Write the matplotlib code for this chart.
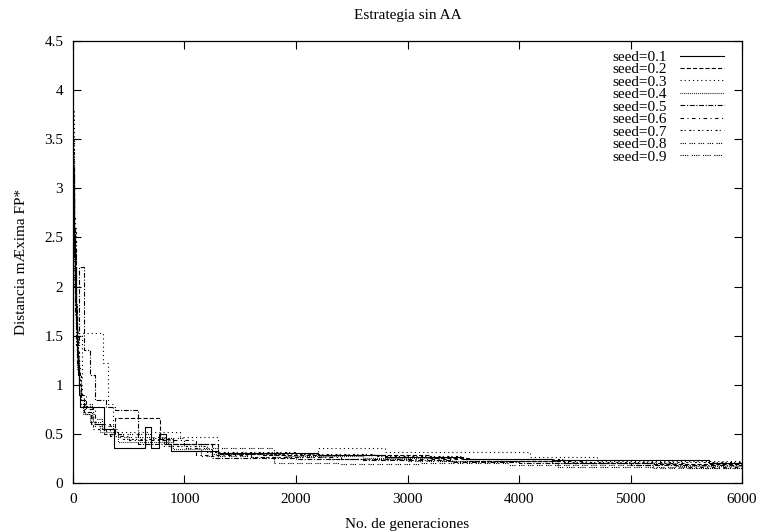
import numpy as np
import matplotlib
matplotlib.use("Agg")
import matplotlib.pyplot as plt

plt.rcParams['font.family'] = ['Liberation Serif', 'DejaVu Serif']
plt.rcParams['font.size'] = 11
plt.rcParams['lines.scale_dashes'] = False

# step series: generation where the value changes, distance from then on
gen_01 = [0, 4, 8, 12, 17, 22, 28, 35, 42, 50, 60, 277, 370, 645, 700, 775, 830, 880, 1300, 2200, 2800, 3500, 4300, 5700, 6000]
dist_01 = [3.0, 2.7, 2.9, 2.3, 2.0, 2.2, 1.6, 1.3, 1.1, 0.9, 0.77, 0.55, 0.36, 0.57, 0.36, 0.5, 0.4, 0.33, 0.31, 0.29, 0.26, 0.24, 0.23, 0.2, 0.2]

gen_02 = [0, 5, 10, 15, 20, 26, 33, 40, 55, 70, 95, 160, 280, 380, 780, 900, 1300, 1700, 2200, 3200, 3550, 4400, 5200, 6000]
dist_02 = [2.8, 3.2, 2.5, 2.1, 2.4, 1.8, 1.5, 1.2, 1.0, 0.85, 0.72, 0.6, 0.5, 0.66, 0.45, 0.4, 0.3, 0.29, 0.28, 0.25, 0.22, 0.2, 0.19, 0.19]

gen_03 = [0, 3, 6, 10, 15, 20, 30, 40, 55, 85, 270, 310, 360, 960, 1300, 2200, 2800, 4100, 4700, 6000]
dist_03 = [4.5, 3.8, 3.0, 2.6, 2.2, 1.9, 1.6, 1.3, 1.05, 1.53, 1.22, 0.8, 0.52, 0.47, 0.3, 0.36, 0.32, 0.26, 0.22, 0.22]

gen_04 = [0, 6, 12, 18, 25, 32, 40, 50, 65, 90, 150, 240, 400, 900, 1250, 1900, 2600, 3300, 4300, 5400, 6000]
dist_04 = [2.6, 2.3, 2.5, 1.9, 1.7, 1.4, 1.15, 0.95, 0.8, 0.7, 0.62, 0.52, 0.42, 0.35, 0.3, 0.27, 0.25, 0.22, 0.2, 0.17, 0.17]

gen_05 = [0, 5, 10, 16, 22, 30, 55, 100, 150, 200, 300, 380, 580, 1250, 2000, 2600, 3400, 4000, 5000, 6000]
dist_05 = [3.1, 2.7, 2.4, 2.0, 1.7, 1.4, 2.2, 1.35, 1.1, 0.85, 0.77, 0.74, 0.4, 0.25, 0.24, 0.23, 0.21, 0.2, 0.18, 0.18]

gen_06 = [0, 4, 9, 14, 20, 27, 35, 45, 60, 80, 120, 200, 330, 500, 1100, 1600, 2400, 3600, 4600, 5500, 6000]
dist_06 = [2.9, 2.5, 2.7, 2.2, 1.8, 1.75, 1.45, 1.2, 1.0, 0.9, 0.75, 0.6, 0.48, 0.44, 0.28, 0.26, 0.24, 0.22, 0.2, 0.16, 0.16]

gen_07 = [0, 5, 11, 17, 24, 31, 40, 52, 70, 100, 180, 300, 450, 820, 1200, 2000, 2700, 3500, 4400, 6000]
dist_07 = [3.3, 2.8, 2.4, 2.6, 2.0, 1.7, 1.35, 1.1, 0.9, 0.78, 0.55, 0.5, 0.45, 0.38, 0.32, 0.3, 0.27, 0.24, 0.21, 0.21]

gen_08 = [0, 4, 8, 13, 19, 26, 34, 44, 56, 72, 110, 200, 380, 700, 1000, 1800, 2400, 3100, 3900, 5200, 6000]
dist_08 = [2.7, 3.0, 2.4, 2.0, 2.2, 1.7, 1.5, 1.25, 1.0, 0.85, 0.7, 0.58, 0.5, 0.46, 0.36, 0.2, 0.19, 0.2, 0.18, 0.15, 0.15]

gen_09 = [0, 6, 12, 19, 27, 36, 46, 58, 75, 100, 170, 260, 400, 850, 1150, 1600, 2300, 3000, 4350, 5500, 6000]
dist_09 = [3.5, 3.0, 2.6, 2.2, 1.85, 1.55, 1.3, 1.05, 0.9, 0.8, 0.65, 0.55, 0.47, 0.4, 0.27, 0.26, 0.24, 0.22, 0.16, 0.15, 0.15]

seeds = ["0.1", "0.2", "0.3", "0.4", "0.5", "0.6", "0.7", "0.8", "0.9"]
gens = [gen_01, gen_02, gen_03, gen_04, gen_05, gen_06, gen_07, gen_08, gen_09]
dists = [dist_01, dist_02, dist_03, dist_04, dist_05, dist_06, dist_07, dist_08, dist_09]

# gnuplot-like monochrome dash patterns
dashes = [None, (3, 1.5), (0.8, 2.2), (0.6, 0.8), (3.5, 1.2, 0.8, 1.2),
          (2.5, 2.5, 0.8, 2.5), (1.5, 1.5, 0.8, 2.5),
          (0.8, 0.8, 0.8, 0.8, 0.8, 2.5), (0.8, 0.8, 0.8, 0.8, 0.8, 0.8, 0.8, 2.5)]

fig = plt.figure(figsize=(7.58, 5.31), dpi=100)
ax = fig.add_axes([0.0963, 0.0904, 0.8826, 0.8324])

for s, g, d, ds in zip(seeds, gens, dists, dashes):
    line, = ax.plot(g, d, drawstyle='steps-post', color='black', lw=0.8,
                    label='seed=' + s)
    if ds is not None:
        line.set_dashes(ds)

ax.set_xlim(0, 6000)
ax.set_ylim(0, 4.5)
ax.set_xticks(np.arange(0, 6001, 1000))
ax.set_yticks(np.arange(0, 4.51, 0.5))
ax.set_yticklabels(['0', '0.5', '1', '1.5', '2', '2.5', '3', '3.5', '4', '4.5'])
ax.tick_params(direction='in', top=True, right=True, length=6, width=0.8,
               labelsize=11, pad=7)
for sp in ax.spines.values():
    sp.set_linewidth(0.9)

ax.set_title('Estrategia sin AA', fontsize=11, pad=16)
ax.set_xlabel('No. de generaciones', fontsize=11, labelpad=9)
ax.set_ylabel('Distancia mÆxima FP*', fontsize=11, labelpad=12)

ax.legend(loc='upper right', frameon=False, markerfirst=False, fontsize=11,
          handlelength=2.9, handletextpad=0.8, labelspacing=-0.08,
          borderaxespad=0.0, bbox_to_anchor=(0.982, 0.993))

fig.savefig('out.png', dpi=100)
